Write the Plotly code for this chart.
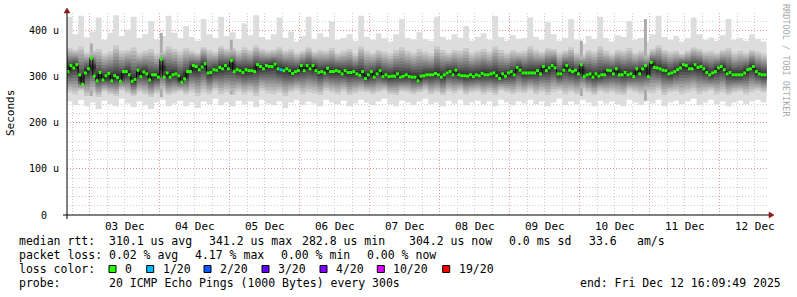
import plotly.graph_objects as go
from datetime import datetime, timedelta

# ---------------- data ----------------
# hourly median RTT in microseconds, 2 Dec 16:00 -> 12 Dec 16:00
median_us = [
    311, 324, 319, 326, 304, 283, 308, 317, 340, 301, 291, 309, 293, 302, 307, 291, 302, 298, 290, 311,
    311, 304, 290, 294, 314, 300, 310, 306, 293, 304, 304, 299, 338, 299, 308, 299, 304, 306, 302, 288,
    295, 311, 311, 324, 322, 315, 321, 328,
    308, 309, 315, 314, 320, 317, 324, 317, 335, 311, 315, 313, 309, 315, 313, 313, 311, 326, 322, 317,
    324, 322, 322, 327, 317, 315, 313, 317, 313, 307, 311, 313, 324, 313, 324, 317, 324, 313, 309, 311,
    308, 318, 311, 311, 313, 311, 306, 313,
    309, 309, 311, 306, 303, 311, 296, 304, 311, 299, 306, 313, 300, 304, 300, 301, 301, 306, 299, 301,
    304, 300, 299, 299, 291, 301, 302, 304, 304, 304, 307, 304, 299, 304, 308, 311, 304, 314, 304, 302,
    302, 301, 304, 300, 304, 302, 307, 304,
    304, 306, 308, 302, 296, 306, 301, 308, 311, 304, 320, 314, 308, 308, 308, 308, 308, 313, 306, 322,
    313, 319, 324, 319, 306, 306, 314, 324, 314, 311, 314, 306, 326, 300, 304, 306, 299, 306, 301, 304,
    304, 314, 313, 306, 317, 304, 304, 309,
    304, 306, 300, 317, 306, 317, 324, 300, 331, 320, 319, 317, 314, 313, 306, 308, 311, 315, 319, 326,
    324, 317, 317, 326, 320, 322, 317, 309, 304, 308, 311, 319, 322, 315, 306, 309, 304, 304, 304, 304,
    308, 315, 317, 322, 311, 306, 304, 304,
]
# lost pings (of 20) per hourly slot, only non-zero slots listed
loss_events = {73: 1}

# smoke envelope, 2-hour resolution (microseconds)
smoke_max = [
    430, 392, 432, 385, 398, 428, 380, 395, 433, 388, 402, 430, 384, 392, 420, 380, 388, 432, 395, 383,
    410, 386, 378, 425, 392, 384, 430, 388, 396, 382, 415, 390, 433, 386, 380, 392, 428, 384, 398, 376,
    388, 430, 382, 394, 386, 420, 380, 384, 392, 378, 432, 386, 380, 394, 383, 376, 392, 425, 384, 380,
    396, 382, 378, 430, 386, 380, 392, 384, 410, 378, 386, 394, 380, 432, 386, 378, 390, 382, 384, 428,
    386, 380, 418, 392, 378, 384, 425, 380, 372, 388, 382, 430, 384, 376, 390, 386, 420, 380, 384, 376,
    392, 432, 386, 380, 388, 376, 384, 428, 392, 380, 385, 378, 390, 425, 380, 384, 378, 392, 382, 376,
]
smoke_min = [
    246, 238, 250, 236, 244, 230, 248, 240, 236, 252, 242, 234, 246, 238, 230, 244, 250, 236, 242, 248,
    236, 244, 232, 246, 240, 252, 238, 244, 236, 248, 240, 246, 234, 250, 242, 238, 246, 232, 244, 250,
    238, 246, 242, 236, 250, 244, 240, 248, 236, 242, 250, 244, 238, 246, 252, 240, 236, 248, 244, 238,
    246, 252, 240, 244, 236, 248, 242, 250, 238, 244, 248, 240, 246, 236, 250, 244, 238, 246, 242, 250,
    240, 246, 236, 244, 252, 238, 246, 240, 250, 244, 236, 248, 242, 246, 240, 236, 250, 244, 238, 246,
    242, 250, 236, 244, 248, 240, 246, 252, 238, 244, 250, 240, 246, 236, 244, 248, 240, 246, 250, 244,
]
core_hi = [
    362, 358, 366, 352, 356, 360, 350, 355, 368, 356, 358, 364, 352, 356, 360, 350, 356, 366, 360, 354,
    362, 356, 352, 364, 358, 354, 366, 360, 362, 356, 364, 358, 368, 360, 356, 358, 364, 356, 360, 352,
    356, 364, 354, 358, 356, 362, 352, 356, 360, 350, 366, 356, 352, 358, 354, 350, 358, 364, 356, 352,
    360, 354, 350, 366, 358, 352, 358, 356, 362, 352, 356, 360, 354, 366, 358, 352, 358, 354, 356, 366,
    358, 354, 362, 360, 352, 356, 364, 352, 348, 358, 354, 366, 356, 350, 358, 356, 362, 352, 356, 350,
    360, 368, 358, 354, 356, 350, 356, 364, 360, 354, 356, 352, 358, 362, 352, 356, 352, 358, 354, 350,
]
core_lo = [
    266, 262, 270, 258, 264, 256, 268, 262, 258, 270, 264, 258, 266, 262, 256, 264, 268, 260, 264, 268,
    262, 266, 258, 266, 262, 270, 262, 266, 260, 268, 262, 266, 258, 270, 264, 262, 266, 258, 266, 270,
    262, 266, 264, 260, 270, 266, 262, 268, 260, 264, 268, 266, 262, 266, 270, 262, 260, 268, 266, 262,
    266, 270, 262, 266, 260, 268, 264, 270, 262, 266, 268, 262, 266, 260, 270, 266, 262, 266, 264, 270,
    262, 266, 260, 266, 270, 262, 266, 262, 270, 266, 260, 268, 264, 266, 262, 260, 270, 266, 262, 266,
    264, 270, 260, 266, 268, 262, 266, 270, 262, 266, 270, 262, 266, 260, 266, 268, 262, 266, 270, 266,
]
# hourly slots where the pings were widely spread (dark vertical streaks): slot -> (low, high)
streak_slots = {8: (258, 372), 32: (256, 395), 56: (262, 380), 176: (258, 378), 198: (248, 425)}

day_labels_fmt = "%d %b"
y_tick_vals = [0, 100, 200, 300, 400]
y_tick_text = ["0\u00a0\u00a0", "100 u", "200 u", "300 u", "400 u"]

legend_rows = [
    [("median rtt:", 16.7), ("310.1 us avg", 107.3), ("341.2 us max", 207.3), ("282.8 us min", 300.0),
     ("304.2 us now", 407.3), ("0.0 ms sd", 507.3), ("33.6", 587.3), ("am/s", 635.3)],
    [("packet loss:", 16.7), ("0.02 % avg", 107.3), ("4.17 % max", 193.3), ("0.00 % min", 279.3),
     ("0.00 % now", 365.0)],
    [("loss color:", 16.7)],
    [("probe:", 16.7), ("20 ICMP Echo Pings (1000 Bytes) every 300s", 107.3),
     ("end: Fri Dec 12 16:09:49 2025", 578.3)],
]
loss_names = ["0", "1/20", "2/20", "3/20", "4/20", "10/20", "19/20"]
loss_colors = ["#26ff00", "#00b8ff", "#0059ff", "#5e00ff", "#7e00ff", "#dd00ff", "#ff0000"]
loss_swatch_x = [109.0, 146.7, 204.0, 262.0, 320.0, 377.3, 442.7]

# ---------------- geometry ----------------
W, H = 797, 297
L, R, T, B = 67, 769, 13, 215
FONT = "DejaVu Sans Mono"
px_per_day = 70.0
x_min = datetime(2025, 12, 2, 16, 9, 49)
x_max = x_min + timedelta(days=(R - L) / px_per_day)
y_max = 438.0
slot0 = datetime(2025, 12, 2, 16, 0, 0)
n = len(median_us)
slot_t = [slot0 + timedelta(hours=i) for i in range(n + 1)]
bin_t = [slot0 + timedelta(hours=2 * i) for i in range(len(smoke_max) + 1)]


def px(xp):
    return (xp - L) / (R - L)


def py(yp):
    return (B - yp) / (B - T)


fig = go.Figure()


def band(xs, lo, hi, color):
    lo2 = list(lo) + [lo[-1]]
    hi2 = list(hi) + [hi[-1]]
    fig.add_trace(go.Scatter(x=xs, y=lo2, mode="lines", line=dict(width=0, shape="hv"),
                             hoverinfo="skip", showlegend=False))
    fig.add_trace(go.Scatter(x=xs, y=hi2, mode="lines", line=dict(width=0, shape="hv"),
                             fill="tonexty", fillcolor=color, hoverinfo="skip", showlegend=False))


# median at 2h resolution for the inner smoke layers
med2 = [(median_us[2 * i] + median_us[2 * i + 1]) / 2 for i in range(len(smoke_max))]

band(bin_t, smoke_min, smoke_max, "#dddddd")
band(bin_t, core_lo, core_hi, "#cacaca")
# dark streaks (single hourly slots)
for s, (lo_v, hi_v) in streak_slots.items():
    fig.add_trace(go.Scatter(x=[slot_t[s], slot_t[s + 1]], y=[lo_v, lo_v], mode="lines",
                             line=dict(width=0), hoverinfo="skip", showlegend=False))
    fig.add_trace(go.Scatter(x=[slot_t[s], slot_t[s + 1]], y=[hi_v, hi_v], mode="lines",
                             line=dict(width=0), fill="tonexty", fillcolor="#ababab",
                             hoverinfo="skip", showlegend=False))
inner = [(0.88, "#b7b7b7"), (0.76, "#a4a4a4"), (0.64, "#919191"), (0.53, "#7e7e7e"),
         (0.42, "#6b6b6b"), (0.31, "#585858"), (0.2, "#454545"), (0.1, "#323232")]
for k, (f, col) in enumerate(inner):
    lo = [m - (m - c) * f for m, c in zip(med2, core_lo)]
    hi = [m + (c - m) * f for m, c in zip(med2, core_hi)]
    band(bin_t, lo, hi, col)

# median step line (black connectors)
fig.add_trace(go.Scatter(x=slot_t, y=median_us + [median_us[-1]], mode="lines",
                         line=dict(color="#000000", width=1, shape="hv"),
                         hoverinfo="skip", showlegend=False))
# coloured median blocks
for lost, col in [(0, loss_colors[0]), (1, loss_colors[1])]:
    xs, ys = [], []
    for i, v in enumerate(median_us):
        if loss_events.get(i, 0) == lost:
            xs += [slot_t[i], slot_t[i + 1], None]
            ys += [v, v, None]
    fig.add_trace(go.Scatter(x=xs, y=ys, mode="lines", line=dict(color=col, width=3),
                             hoverinfo="skip", showlegend=False, connectgaps=False))

major_grid = "rgba(235,120,120,0.75)"
minor_grid = "rgba(170,170,170,0.6)"
fig.update_xaxes(type="date", range=[x_min, x_max], showgrid=True, gridcolor=major_grid,
                 griddash="1px,2px", gridwidth=1, dtick=86400000, tick0="2025-12-03",
                 tickformat=day_labels_fmt, ticklabelmode="period", ticks="",
                 tickfont=dict(family=FONT, size=11, color="#000"), ticklabelstandoff=3,
                 minor=dict(dtick=6 * 3600000, tick0="2025-12-03", showgrid=True,
                            gridcolor=minor_grid, griddash="1px,2px", gridwidth=1),
                 zeroline=False, showline=False)
fig.update_yaxes(range=[0, y_max], tickvals=y_tick_vals, ticktext=y_tick_text, showgrid=True,
                 gridcolor=major_grid, griddash="1px,2px", gridwidth=1, ticks="",
                 tickfont=dict(family=FONT, size=10, color="#000"), ticklabelstandoff=7,
                 minor=dict(dtick=20, showgrid=True, gridcolor=minor_grid, griddash="1px,2px"),
                 zeroline=False, showline=False)

shapes = [
    # axes
    dict(type="line", xref="paper", yref="paper", x0=px(63), x1=px(770), y0=0, y1=0,
         line=dict(color="#000", width=1)),
    dict(type="line", xref="paper", yref="paper", x0=0, x1=0, y0=py(219), y1=py(12),
         line=dict(color="#000", width=1)),
    dict(type="path", xref="paper", yref="paper",
         path=f"M {px(769)} {py(212)} L {px(774)} {py(215)} L {px(769)} {py(218)} Z",
         fillcolor="#8b1a1a", line=dict(color="#8b1a1a", width=0.5)),
    dict(type="path", xref="paper", yref="paper",
         path=f"M {px(64)} {py(13)} L {px(67)} {py(8)} L {px(70)} {py(13)} Z",
         fillcolor="#8b1a1a", line=dict(color="#8b1a1a", width=0.5)),
]
annotations = []
row_y = [241, 255, 269, 283]
for r, row in enumerate(legend_rows):
    for txt, xp in row:
        annotations.append(dict(text=txt, xref="paper", yref="paper", x=px(xp), y=py(row_y[r]),
                                xanchor="left", yanchor="middle", showarrow=False,
                                font=dict(family=FONT, size=11.5, color="#000")))
for name, col, xs in zip(loss_names, loss_colors, loss_swatch_x):
    shapes.append(dict(type="rect", xref="paper", yref="paper", x0=px(xs), x1=px(xs + 7),
                       y0=py(272.5), y1=py(265.5), fillcolor=col, line=dict(color="#000", width=1)))
    annotations.append(dict(text=name, xref="paper", yref="paper", x=px(xs + 14), y=py(269),
                            xanchor="left", yanchor="middle", showarrow=False,
                            font=dict(family=FONT, size=11.5, color="#000")))
annotations.append(dict(text="Seconds", xref="paper", yref="paper", x=px(10), y=py(113),
                        textangle=-90, showarrow=False, xanchor="center", yanchor="middle",
                        font=dict(family=FONT, size=11, color="#000")))
annotations.append(dict(text="RRDTOOL / TOBI OETIKER", xref="paper", yref="paper", x=px(786),
                        y=py(60), textangle=90, showarrow=False, xanchor="center", yanchor="middle",
                        font=dict(family=FONT, size=8.5, color="#aaaaaa")))

fig.update_layout(width=W, height=H, margin=dict(l=L, r=W - R, t=T, b=H - B, pad=0),
                  paper_bgcolor="#ffffff", plot_bgcolor="#ffffff", showlegend=False,
                  shapes=shapes, annotations=annotations)
fig.write_html("out.html")
